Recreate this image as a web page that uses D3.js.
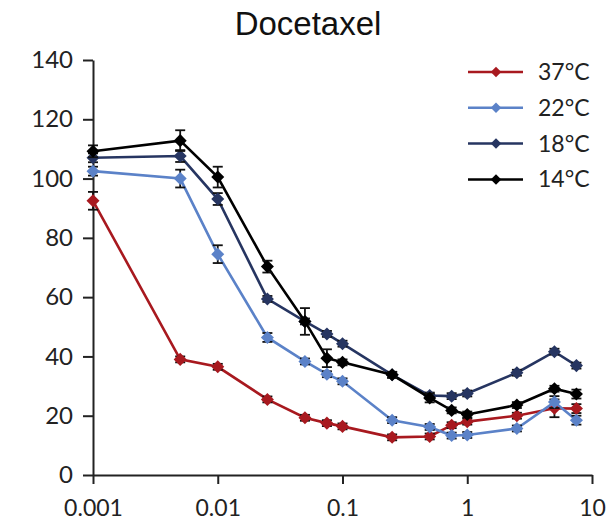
<!DOCTYPE html>
<meta charset="utf-8">
<script src="https://d3js.org/d3.v7.min.js"></script>
<style>
body { margin: 0; background: #fff; }
.axis path, .axis line { stroke: #222; stroke-width: 2px; }
.axis text { font-family: Lato, sans-serif; font-size: 24px; fill: #222; }
.xaxis text { font-size: 23px; }
</style>
<div id="my_dataviz"></div>
<script>

// concentrations (x) shared by every series
var conc = [0.001, 0.005, 0.01, 0.025, 0.05, 0.075, 0.1, 0.25, 0.5, 0.75, 1, 2.5, 5, 7.5];

// values
var t37 = [92.5, 39, 36.5, 25.5, 19.3, 17.5, 16.4, 12.7, 13, 16.8, 18, 20, 22.5, 22.4];
var t22 = [102.5, 100, 74.5, 46.4, 38.3, 34, 31.6, 18.5, 16.2, 13.3, 13.5, 15.7, 24.6, 18.5];
var t18 = [107, 107.6, 93.1, 59.4, 51.8, 47.6, 44.3, 33.8, 26.8, 26.6, 27.5, 34.5, 41.6, 36.9];
var t14 = [109.2, 112.8, 100.5, 70.3, 51.8, 39.4, 38, 33.8, 26, 21.8, 20.4, 23.6, 29.1, 27.3];

// error bars (+/-)
var e37 = [3, 1, 1, 1, 1, 1, 1, 1, 1, 1, 1, 1, 3, 1.5];
var e22 = [1.5, 3, 3, 1.5, 1, 1, 1, 1, 1, 1, 1, 1, 2, 1.5];
var e18 = [1.5, 2, 2, 1, 1, 1, 1, 1, 1, 1, 1, 1, 1, 1];
var e14 = [2, 3.5, 3.5, 2, 4.5, 3, 1, 1, 1.5, 1, 1, 1, 1, 1.5];

var seriesNames = ["37°C", "22°C", "18°C", "14°C"];
var seriesColors = ["#a8191f", "#5b82c8", "#263561", "#000000"];

var xTicks = [0.001, 0.01, 0.1, 1, 10];
var yTicks = [0, 20, 40, 60, 80, 100, 120, 140];

var series = [
  {name: seriesNames[0], color: seriesColors[0], vals: t37, err: e37},
  {name: seriesNames[1], color: seriesColors[1], vals: t22, err: e22},
  {name: seriesNames[2], color: seriesColors[2], vals: t18, err: e18},
  {name: seriesNames[3], color: seriesColors[3], vals: t14, err: e14}
];

var margin = {top: 60, right: 21, bottom: 47, left: 93},
    width = 613 - margin.left - margin.right,
    height = 522 - margin.top - margin.bottom;

var root = d3.select("#my_dataviz")
  .append("svg")
    .attr("width", 613)
    .attr("height", 522);

var svg = root.append("g")
    .attr("transform", "translate(" + margin.left + "," + margin.top + ")");

var x = d3.scaleLog()
  .domain([0.001, 10])
  .range([0, width]);

var y = d3.scaleLinear()
  .domain([0, 140])
  .range([height, 0]);

// title
root.append("text")
  .attr("x", 308)
  .attr("y", 35)
  .attr("text-anchor", "middle")
  .style("font-family", "'Liberation Sans', Arial, sans-serif")
  .style("font-size", "33px")
  .style("fill", "#111")
  .text("Docetaxel");

// X axis
svg.append("g")
  .attr("class", "axis xaxis")
  .attr("transform", "translate(0," + height + ")")
  .call(d3.axisBottom(x)
    .tickValues(xTicks)
    .tickFormat(function(d) { return String(d); })
    .tickSize(9)
    .tickSizeOuter(0)
    .tickPadding(16));

// Y axis
svg.append("g")
  .attr("class", "axis")
  .call(d3.axisLeft(y)
    .tickValues(yTicks)
    .tickSize(10)
    .tickSizeOuter(0)
    .tickPadding(10));

var diamond = d3.symbol().type(d3.symbolSquare).size(85);

var line = d3.line()
  .x(function(d) { return x(d.c); })
  .y(function(d) { return y(d.v); });

series.forEach(function(s) {
  var pts = conc.map(function(c, i) { return {c: c, v: s.vals[i], e: s.err[i]}; });

  svg.append("path")
    .datum(pts)
    .attr("fill", "none")
    .attr("stroke", s.color)
    .attr("stroke-width", 2.6)
    .attr("d", line);

  // error bars
  var eb = svg.append("g").selectAll("g")
    .data(pts)
    .enter().append("g")
    .attr("stroke", "#111")
    .attr("stroke-width", 1.8);
  eb.append("line")
    .attr("x1", function(d) { return x(d.c); })
    .attr("x2", function(d) { return x(d.c); })
    .attr("y1", function(d) { return y(d.v - d.e); })
    .attr("y2", function(d) { return y(d.v + d.e); });
  eb.append("line")
    .attr("x1", function(d) { return x(d.c) - 5; })
    .attr("x2", function(d) { return x(d.c) + 5; })
    .attr("y1", function(d) { return y(d.v + d.e); })
    .attr("y2", function(d) { return y(d.v + d.e); });
  eb.append("line")
    .attr("x1", function(d) { return x(d.c) - 5; })
    .attr("x2", function(d) { return x(d.c) + 5; })
    .attr("y1", function(d) { return y(d.v - d.e); })
    .attr("y2", function(d) { return y(d.v - d.e); });

  // markers
  svg.append("g").selectAll("path")
    .data(pts)
    .enter().append("path")
    .attr("d", diamond)
    .attr("transform", function(d) { return "translate(" + x(d.c) + "," + y(d.v) + ") rotate(45)"; })
    .attr("fill", s.color);
});

// legend
var legend = root.append("g")
  .selectAll("g")
  .data(series)
  .enter().append("g")
  .attr("transform", function(d, i) { return "translate(468," + (72 + i * 35.8) + ")"; });

legend.append("line")
  .attr("x1", 0).attr("x2", 55)
  .attr("stroke", function(d) { return d.color; })
  .attr("stroke-width", 2.5);

legend.append("path")
  .attr("d", d3.symbol().type(d3.symbolSquare).size(55))
  .attr("transform", "translate(28,0) rotate(45)")
  .attr("fill", function(d) { return d.color; });

legend.append("text")
  .attr("x", 70)
  .attr("y", 8)
  .style("font-family", "Lato, sans-serif")
  .style("font-size", "23px")
  .style("fill", "#222")
  .text(function(d) { return d.name; });

</script>
